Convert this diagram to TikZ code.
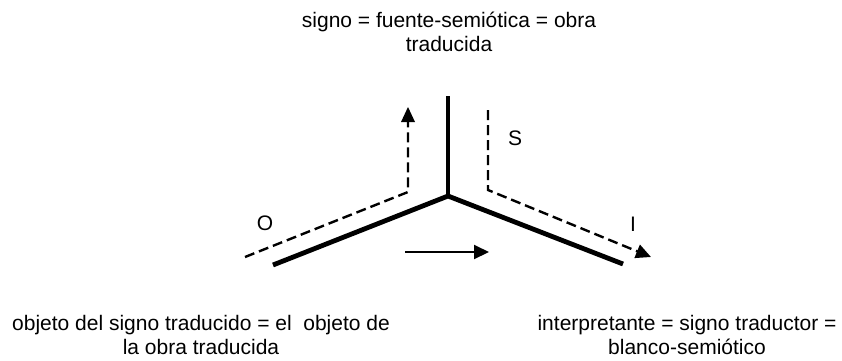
\documentclass[tikz,border=0pt]{standalone}
\usepackage{fontspec}
\setmainfont{Liberation Sans}
\usetikzlibrary{arrows.meta}
\begin{document}
\begin{tikzpicture}[x=1pt,y=-1pt,
  thick line/.style={line width=4.8pt},
  dash line/.style={line width=2.4pt, dash pattern=on 10pt off 5pt},
  tip/.style={-{Triangle[length=15pt,width=14pt]}},
  lbl/.style={font=\fontsize{21}{23.5}\selectfont, inner sep=0pt, align=center}]
\useasboundingbox (0,0) rectangle (842,360);
\coordinate (C) at (448,196);
\coordinate (T) at (448,96);
\coordinate (L) at (273,265);
\coordinate (R) at (623,264);
\draw[thick line] (T) -- (C);
\draw[thick line] (L) -- (C) -- (R);
% dashed O path
\coordinate (o1) at (245,257);
\coordinate (o2) at (408,192);
\coordinate (o3) at (408,107);
\draw[dash line] (o1) -- (o2) -- (408,121);
\fill (o3) -- ++(-7,15) -- ++(14,0) -- cycle;
% dashed S/I path
\coordinate (s1) at (488,110);
\coordinate (s2) at (488,190);
\coordinate (s3) at (651,257);
\draw[dash line, tip] (s1) -- (s2) -- (s3);
% horizontal arrow
\coordinate (a1) at (405,252);
\coordinate (a2) at (489,252);
\draw[line width=2pt, tip] (a1) -- (a2);
\node[lbl] (O) at (265,223) {O};
\node[lbl] (S) at (515,138) {S};
\node[lbl] (I) at (633,224) {I};
\node[lbl, anchor=base] (top) at (449,51) {signo = fuente-semiótica = obra\\traducida};
\node[lbl, anchor=base] (bl) at (201,354) {objeto del signo traducido = el\ \ objeto de\\la obra traducida};
\node[lbl, anchor=base] (br) at (687,354) {interpretante = signo traductor =\\blanco-semiótico};
\end{tikzpicture}
\end{document}
